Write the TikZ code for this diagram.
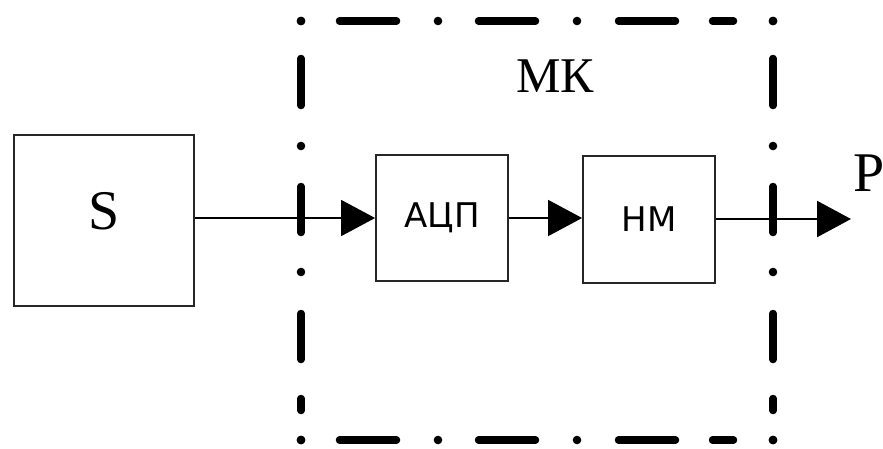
\documentclass[tikz,border=0pt]{standalone}
\usepackage{fontspec}
\setmainfont{Liberation Serif}
\newfontfamily\boxfont{DejaVu Sans}
\usetikzlibrary{arrows.meta}
\tikzset{
  block/.style={draw=black!85, line width=1.8pt, inner sep=0pt},
  serifbig/.style={font=\fontsize{56}{60}\selectfont},
  boxtext/.style={font=\boxfont\fontsize{34}{38}\selectfont},
  conn/.style={draw=black, line width=1.6pt},
  tip/.style={-{Triangle[length=34pt,width=36pt]}},
  frame/.style={line width=7.5pt, line cap=round},
  framedot/.style={fill=black},
}
\begin{document}
\begin{tikzpicture}[x=1pt,y=-1pt]
\useasboundingbox (0,0) rectangle (883,448);
% blocks
\node[block, minimum width=180pt, minimum height=171pt] (S) at (104,220.5) {};
\node[serifbig] (Slab) at (104,211) {S};
\node[block, minimum width=132pt, minimum height=126pt] (adc) at (442,218) {};
\node[boxtext] (adclab) at (442,218) {АЦП};
\node[block, minimum width=132pt, minimum height=127pt] (hm) at (649,219.5) {};
\node[boxtext] (hmlab) at (649,219) {НМ};
\node[font=\fontsize{50}{54}\selectfont] (mk) at (555,76) {МК};
\node[serifbig, anchor=west, inner sep=0pt] (P) at (853,173) {P};
\coordinate (out) at (851,219);
% dash-dot frame
\foreach \x in {301,438,577,773} {
  \fill[framedot] (\x,21) circle (4.3pt);
  \fill[framedot] (\x,440) circle (4.3pt);
}
\foreach \y in {21,146,272,440} {
  \fill[framedot] (301,\y) circle (4.3pt);
  \fill[framedot] (773,\y) circle (4.3pt);
}
\foreach \a/\b in {339.5/396.5, 478.5/535.5, 618.5/675.5, 712.5/733.5} {
  \draw[frame] (\a,21) -- (\b,21);
  \draw[frame] (\a,440) -- (\b,440);
}
\foreach \a/\b in {58.5/105.5, 186.5/232.5, 313.5/359.5, 398.5/410.5} {
  \draw[frame] (301,\a) -- (301,\b);
  \draw[frame] (773,\a) -- (773,\b);
}
% connectors
\draw[conn, tip] (S.east |- 0,218) -- (adc.west |- 0,218);
\draw[conn, tip] (adc.east |- 0,218) -- (hm.west |- 0,218);
\draw[conn, line width=2.4pt, tip] (hm.east |- out) -- (out);
\end{tikzpicture}
\end{document}
